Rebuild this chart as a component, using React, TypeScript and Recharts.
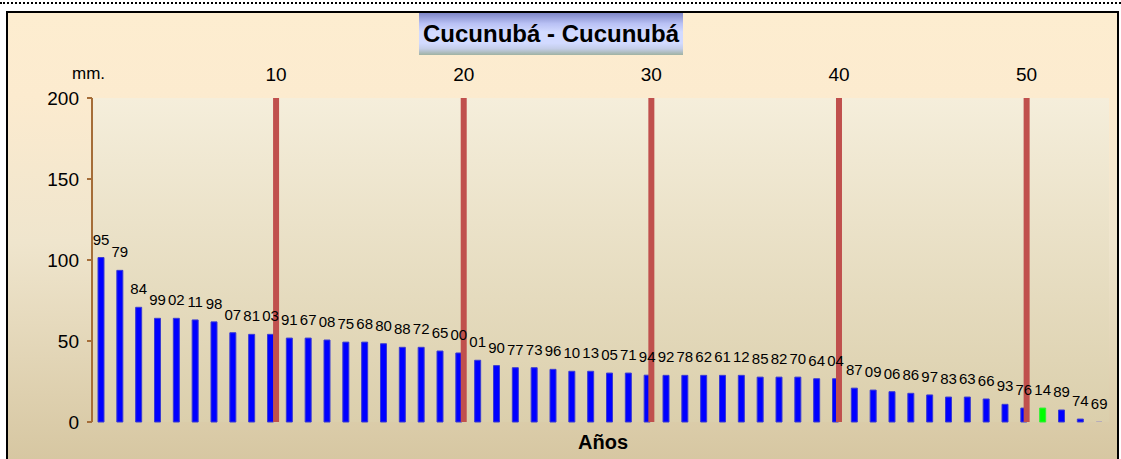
import React from 'react';
import {
  BarChart,
  Bar,
  Cell,
  XAxis,
  YAxis,
  ReferenceLine,
  LabelList,
  CartesianGrid,
} from 'recharts';

// two-digit year of each bar, ordered by rainfall
const years = [
  '95', '79', '84', '99', '02', '11', '98', '07', '81', '03',
  '91', '67', '08', '75', '68', '80', '88', '72', '65', '00',
  '01', '90', '77', '73', '96', '10', '13', '05', '71', '94',
  '92', '78', '62', '61', '12', '85', '82', '70', '64', '04',
  '87', '09', '06', '86', '97', '83', '63', '66', '93', '76',
  '14', '89', '74', '69',
];

// mm
const rain = [
  101.5, 93.6, 70.8, 64.0, 64.0, 63.0, 61.8, 55.1, 54.1, 54.1,
  51.8, 51.8, 50.6, 49.3, 49.3, 48.3, 46.1, 46.1, 43.8, 42.6,
  38.1, 34.8, 33.5, 33.5, 32.5, 31.3, 31.3, 30.2, 30.2, 28.9,
  28.8, 28.8, 28.8, 28.8, 28.8, 27.7, 27.7, 27.7, 26.7, 26.7,
  20.9, 19.7, 18.7, 17.7, 16.7, 15.4, 15.4, 14.2, 10.9, 8.6,
  8.6, 7.4, 1.8, 0.1,
];

const highlightYear = '14';
const markers = [10, 20, 30, 40, 50];
const yTicks = [0, 50, 100, 150, 200];

const data = years.map((yr, i) => ({ idx: i + 1, yr, rain: rain[i] }));

const FONT = '"Liberation Sans", Arial, sans-serif';

const barFill = (d: { yr: string }) => (d.yr === highlightYear ? '#00ff00' : '#0000ff');
const barStroke = (d: { yr: string; rain: number }) => {
  if (d.rain < 1) return 'none';
  return d.yr === highlightYear ? '#33ee33' : '#3a3ad2';
};

export default function App() {
  return (
    <div
      style={{
        position: 'absolute',
        left: 0,
        top: 0,
        width: 1121,
        height: 459,
        overflow: 'hidden',
        background: '#fff',
        fontFamily: FONT,
      }}
    >
      <div
        style={{
          position: 'absolute',
          left: 0,
          top: 2,
          width: 1121,
          borderTop: '2px dotted #000',
        }}
      />
      <div
        style={{
          position: 'absolute',
          left: 6,
          top: 11,
          width: 1109,
          height: 460,
          border: '2px solid #000',
          borderBottom: 'none',
          background:
            'linear-gradient(to bottom, #fdedd0 0%, #fcebcf 18%, #efe5cd 50%, #d5c59f 100%)',
        }}
      />
      <div
        style={{
          position: 'absolute',
          left: 419,
          top: 13,
          width: 264,
          height: 42,
          background:
            'linear-gradient(to bottom, #7f86c6 0%, #b8c0f4 25%, #d2daff 45%, #d2daff 72%, #c4cde8 85%, #9fb2a2 100%)',
          display: 'flex',
          alignItems: 'center',
          justifyContent: 'center',
          fontWeight: 'bold',
          fontSize: 24,
          lineHeight: 1,
          color: '#000',
        }}
      >
        Cucunubá - Cucunubá
      </div>
      <div
        style={{
          position: 'absolute',
          left: 72,
          top: 65,
          fontSize: 17,
          lineHeight: 1,
          color: '#000',
        }}
      >
        mm.
      </div>
      <div
        style={{
          position: 'absolute',
          left: 553,
          top: 432,
          width: 100,
          textAlign: 'center',
          fontSize: 20,
          fontWeight: 'bold',
          lineHeight: 1,
          color: '#000',
        }}
      >
        Años
      </div>
      <div style={{ position: 'absolute', left: 0, top: 0 }}>
        <BarChart
          width={1121}
          height={459}
          data={data}
          margin={{ top: 68, right: 12, bottom: 7, left: 32 }}
          barCategoryGap={0}
        >
          <defs>
            <linearGradient id="plotBg" x1="0" y1="0" x2="0" y2="1">
              <stop offset="0%" stopColor="#f5eedb" />
              <stop offset="100%" stopColor="#dbcfac" />
            </linearGradient>
          </defs>
          <CartesianGrid
            horizontal={false}
            vertical={false}
            fill="url(#plotBg)"
            xAxisId="cat"
          />
          <XAxis
            xAxisId="cat"
            dataKey="yr"
            type="category"
            height={30}
            tick={false}
            tickLine={false}
            axisLine={false}
          />
          <XAxis
            xAxisId="top"
            orientation="top"
            dataKey="idx"
            type="number"
            domain={[0.19, 54.39]}
            allowDataOverflow
            ticks={markers}
            height={30}
            tickSize={0}
            tickMargin={17}
            tickLine={false}
            axisLine={false}
            tick={{ fontSize: 19, fill: '#000', fontFamily: FONT }}
          />
          <YAxis
            domain={[0, 200]}
            ticks={yTicks}
            width={60}
            tickSize={5}
            tickMargin={8}
            axisLine={{ stroke: '#a56d38', strokeWidth: 2 }}
            tickLine={{ stroke: '#a56d38', strokeWidth: 2 }}
            tick={{ fontSize: 19, fill: '#000', fontFamily: FONT }}
          />
          <Bar
            xAxisId="cat"
            dataKey="rain"
            barSize={6}
            fill="#0000ff"
            stroke="#3a3ad2"
            strokeWidth={1}
            isAnimationActive={false}
          >
            {data.map((d) => (
              <Cell key={d.idx} fill={barFill(d)} stroke={barStroke(d)} />
            ))}
            <LabelList
              dataKey="yr"
              position="top"
              offset={13}
              style={{ fontSize: 15, fill: '#000', fontFamily: FONT }}
            />
          </Bar>
          {markers.map((m) => (
            <ReferenceLine
              key={m}
              xAxisId="top"
              x={m}
              stroke="#c0504d"
              strokeWidth={6}
            />
          ))}
        </BarChart>
      </div>
    </div>
  );
}
